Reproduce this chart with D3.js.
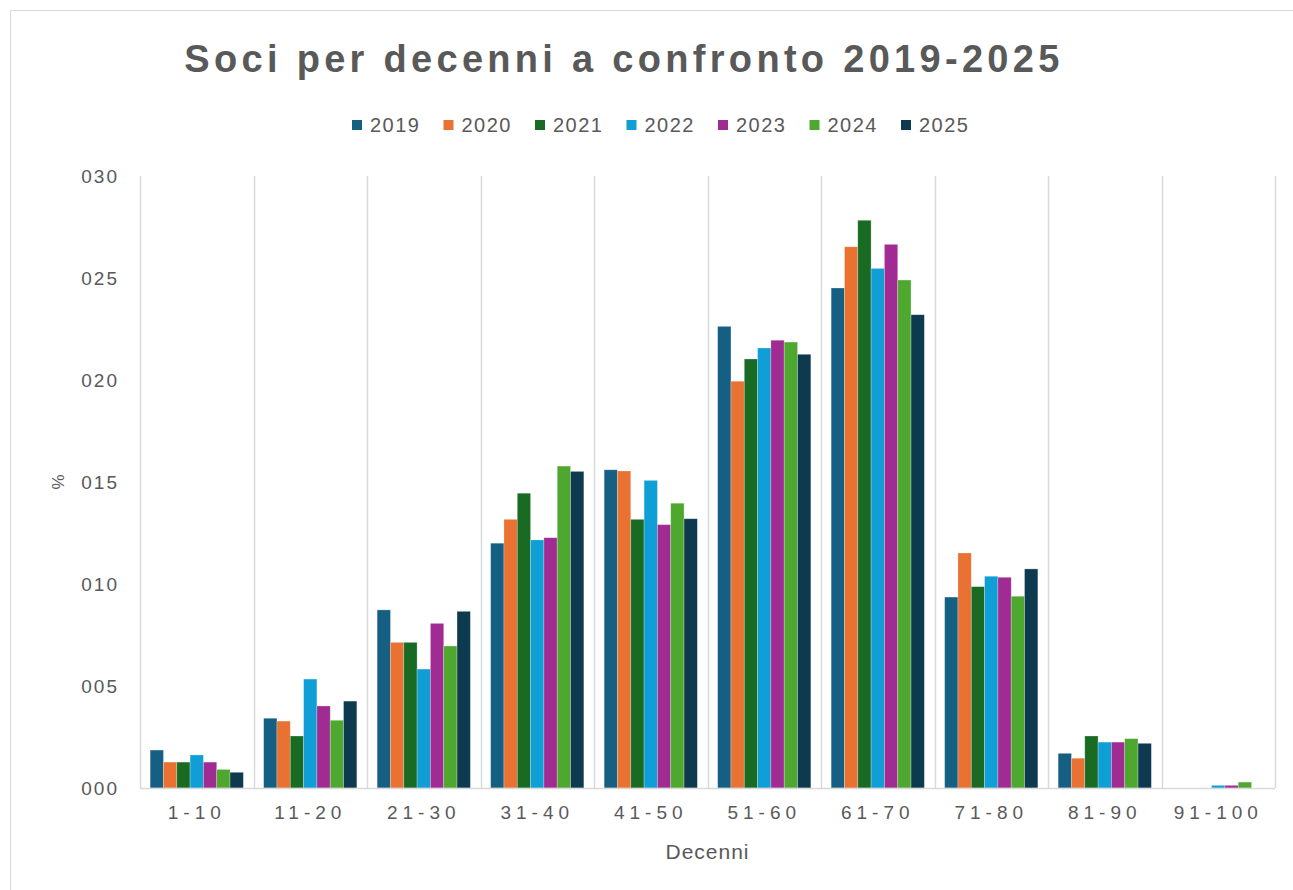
<!DOCTYPE html>
<html>
<head>
<meta charset="utf-8">
<script src="https://cdn.jsdelivr.net/npm/d3@7"></script>
<style>
  body { margin: 0; background: #fff; }
  text { font-family: "Liberation Sans", Arial, sans-serif; fill: #595959; }
</style>
</head>
<body>
<div id="chart"></div>
<script>
var width = 1293, height = 890;

var decades = ["1-10", "11-20", "21-30", "31-40", "41-50", "51-60", "61-70", "71-80", "81-90", "91-100"];
var years   = ["2019", "2020", "2021", "2022", "2023", "2024", "2025"];
var colors  = ["#156082", "#e97132", "#196b24", "#0f9ed5", "#a02b93", "#4ea72e", "#0d3a4f"];

// % per decade, one array per year
var v2019 = [1.86, 3.42, 8.73, 12.00, 15.60, 22.63, 24.51, 9.36, 1.70, 0];
var v2020 = [1.27, 3.28, 7.14, 13.17, 15.54, 19.94, 26.53, 11.52, 1.46, 0];
var v2021 = [1.27, 2.55, 7.14, 14.45, 13.17, 21.03, 27.83, 9.87, 2.55, 0];
var v2022 = [1.62, 5.34, 5.83, 12.16, 15.08, 21.57, 25.47, 10.38, 2.25, 0.13];
var v2023 = [1.27, 4.02, 8.07, 12.27, 12.91, 21.95, 26.65, 10.33, 2.25, 0.13];
var v2024 = [0.91, 3.32, 6.96, 15.78, 13.96, 21.86, 24.90, 9.40, 2.42, 0.29];
var v2025 = [0.77, 4.26, 8.66, 15.52, 13.20, 21.26, 23.20, 10.74, 2.19, 0];

var yTicks = [0, 5, 10, 15, 20, 25, 30];

var series = [v2019, v2020, v2021, v2022, v2023, v2024, v2025];

var margin = {left: 140, right: 18, top: 176, bottom: 102};
var plotW = width - margin.left - margin.right;
var plotH = height - margin.top - margin.bottom;

var svg = d3.select("#chart").append("svg")
    .attr("width", width)
    .attr("height", height);

// outer chart border
svg.append("rect")
    .attr("x", 10.5).attr("y", 10.5)
    .attr("width", width + 20).attr("height", height + 20)
    .attr("fill", "none")
    .attr("stroke", "#d9d9d9");

svg.append("text")
    .attr("x", 624).attr("y", 72)
    .style("font-size", "38px")
    .style("font-weight", "bold")
    .style("letter-spacing", "4.3px")
    .style("text-anchor", "middle")
    .text("Soci per decenni a confronto 2019-2025");

// legend
var legend = svg.append("g").attr("transform", "translate(352,0)");
var item = legend.selectAll("g")
    .data(years)
    .enter().append("g")
    .attr("transform", function(d, i) { return "translate(" + (i * 91.5) + ",0)"; });
item.append("rect")
    .attr("x", 0).attr("y", 120)
    .attr("width", 10).attr("height", 10)
    .attr("fill", function(d, i) { return colors[i]; });
item.append("text")
    .attr("x", 18).attr("y", 132)
    .style("font-size", "20px")
    .style("letter-spacing", "1.5px")
    .text(function(d) { return d; });

var g = svg.append("g")
    .attr("transform", "translate(" + margin.left + "," + margin.top + ")");

var x0 = d3.scaleBand().domain(decades).range([0, plotW]).padding(0);
var bw = x0.bandwidth();
var gap = bw * 20.3 / 113.5;
var x1 = d3.scaleBand().domain(years).range([gap / 2, bw - gap / 2]).padding(0);

var y = d3.scaleLinear().domain([0, 30]).range([plotH, 0]);

// vertical gridlines at category boundaries
var bounds = decades.map(function(d) { return x0(d); }).concat([plotW]);
g.append("g").selectAll("line")
    .data(bounds)
    .enter().append("line")
    .attr("x1", function(d) { return Math.round(d) + 0.5; })
    .attr("x2", function(d) { return Math.round(d) + 0.5; })
    .attr("y1", 0).attr("y2", plotH)
    .attr("stroke", "#d9d9d9")
    .attr("stroke-width", 1.5);

// bars
var groups = g.append("g").selectAll("g")
    .data(decades)
    .enter().append("g")
    .attr("transform", function(d) { return "translate(" + x0(d) + ",0)"; });

groups.selectAll("rect")
    .data(function(d, di) { return series.map(function(s, si) { return {year: years[si], v: s[di], i: si}; }); })
    .enter().append("rect")
    .attr("x", function(d) { return x1(d.year); })
    .attr("y", function(d) { return y(d.v); })
    .attr("width", x1.bandwidth())
    .attr("height", function(d) { return plotH - y(d.v); })
    .attr("fill", function(d) { return colors[d.i]; })
    .attr("stroke", "#ffffff")
    .attr("stroke-opacity", 0.35)
    .attr("stroke-width", 0.75);

// baseline
g.append("line")
    .attr("x1", 0).attr("x2", plotW)
    .attr("y1", plotH + 0.5).attr("y2", plotH + 0.5)
    .attr("stroke", "#d9d9d9")
    .attr("stroke-width", 1.5);

// y axis labels
var yAxis = g.append("g")
    .call(d3.axisLeft(y).tickValues(yTicks).tickFormat(d3.format("03d")).tickSize(0).tickPadding(21));
yAxis.select(".domain").remove();
yAxis.selectAll("text")
    .style("font-size", "19px")
    .style("letter-spacing", "2px")
    .style("fill", "#595959")
    .style("font-family", "'Liberation Sans', Arial, sans-serif");

// x axis labels
var xAxis = g.append("g")
    .attr("transform", "translate(0," + plotH + ")")
    .call(d3.axisBottom(x0).tickSize(0).tickPadding(18));
xAxis.select(".domain").remove();
xAxis.selectAll("text")
    .style("font-size", "19px")
    .style("letter-spacing", "5px")
    .style("fill", "#595959")
    .style("font-family", "'Liberation Sans', Arial, sans-serif");

svg.append("text")
    .attr("x", margin.left + plotW / 2).attr("y", 859)
    .style("font-size", "21px")
    .style("letter-spacing", "1px")
    .style("text-anchor", "middle")
    .text("Decenni");

svg.append("text")
    .attr("transform", "translate(64,482) rotate(-90)")
    .style("font-size", "17px")
    .style("text-anchor", "middle")
    .text("%");
</script>
</body>
</html>
